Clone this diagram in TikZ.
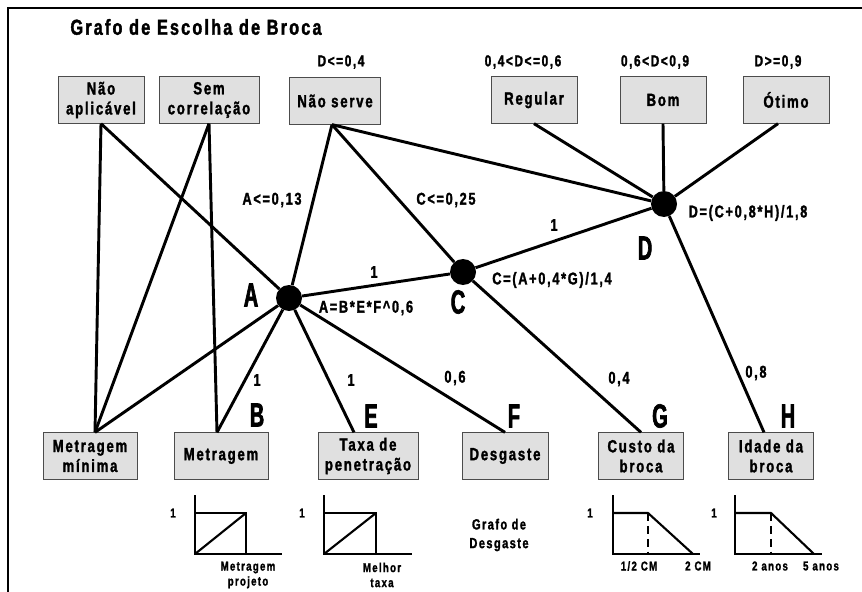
\documentclass[tikz,border=0pt]{standalone}
\usepackage{fontspec}
\setmainfont{Liberation Sans}[FakeStretch=0.75,LetterSpace=10,FakeBold=1.6]
\newfontfamily\letrafont{Liberation Sans}[FakeStretch=0.6,FakeBold=2]
\usetikzlibrary{calc}

\tikzset{
  caixa/.style={draw=black!70, line width=0.8pt, fill=black!12, minimum height=1.39cm, inner sep=0pt, align=center, font=\bfseries\fontsize{15}{17}\selectfont},
  no/.style={circle, fill=black, minimum size=0.78cm, inner sep=0pt},
  aresta/.style={line width=2.5pt},
  titulo/.style={font=\bfseries\fontsize{18.5}{20}\selectfont, inner sep=0pt},
  faixa/.style={font=\bfseries\fontsize{13.5}{15}\selectfont, inner sep=0pt},
  rotulo/.style={font=\bfseries\fontsize{14.5}{16}\selectfont, inner sep=0pt},
  letra/.style={font=\letrafont\bfseries\fontsize{28.5}{30}\selectfont, inner sep=0pt},
  eixo/.style={line width=2.5pt},
  curva/.style={line width=1.8pt},
  tracejado/.style={line width=2.5pt, dash pattern=on 7pt off 4pt},
  legenda/.style={font=\bfseries\fontsize{11}{12.8}\selectfont, inner sep=0pt, align=center},
}

\begin{document}
\begin{tikzpicture}[x=0.03cm, y=-0.03cm]
			%%%%% MOLDURA %%%%%
			\useasboundingbox (0,0) rectangle (862,592);
			\draw[line width=1.8pt] (8,592) -- (8,8) -- (862,8);
			
			\node[titulo] (titulo) at (196,27) {Grafo de Escolha de Broca};
			
			%%%%% CAIXAS DE CIMA %%%%%
			\node[caixa, minimum width=2.58cm] (naoap) at (101,100) {Não\\aplicável};
			\node[caixa, minimum width=3cm] (semcor) at (209,100) {Sem\\correlação};
			\node[caixa, minimum width=2.73cm] (naoserve) at (335,101) {Não serve};
			\node[caixa, minimum width=2.58cm] (regular) at (534,100) {Regular};
			\node[caixa, minimum width=2.58cm] (bom) at (663,100) {Bom};
			\node[caixa, minimum width=2.58cm] (otimo) at (786,100) {Ótimo};
			
			\node[faixa] (faixa1) at (341,62) {D<=0,4};
			\node[faixa] (faixa2) at (523,62) {0,4<D<=0,6};
			\node[faixa] (faixa3) at (655,62) {0,6<D<0,9};
			\node[faixa] (faixa4) at (778,62) {D>=0,9};
			
			%%%%% CAIXAS DE BAIXO %%%%%
			\node[caixa, minimum width=2.82cm] (metmin) at (90,456) {Metragem\\mínima};
			\node[caixa, minimum width=2.82cm] (metragem) at (221,456) {Metragem};
			\node[caixa, minimum width=3cm] (taxa) at (368,456) {Taxa de\\penetração};
			\node[caixa, minimum width=2.58cm] (desgaste) at (505,456) {Desgaste};
			\node[caixa, minimum width=2.55cm] (custo) at (641,456) {Custo da\\broca};
			\node[caixa, minimum width=2.55cm] (idade) at (771,456) {Idade da\\broca};
			
			\node[letra] (letraB) at (257,415) {B};
			\node[letra] (letraE) at (371,416) {E};
			\node[letra] (letraF) at (514,416) {F};
			\node[letra] (letraG) at (660,416) {G};
			\node[letra] (letraH) at (788,416) {H};
			
			%%%%% NOS %%%%%
			\node[no] (A) at (289,298) {};
			\node[no] (C) at (463,272) {};
			\node[no] (D) at (664,204) {};
			
			\node[letra] (letraA) at (251,295) {A};
			\node[letra] (letraC) at (458,302) {C};
			\node[letra] (letraD) at (645,248) {D};
			
			\node[rotulo] (fA) at (366,308) {A=B*E*F\^{}0,6};
			\node[rotulo] (fC) at (552,280) {C=(A+0,4*G)/1,4};
			\node[rotulo] (fD) at (748,213) {D=(C+0,8*H)/1,8};
			
			% pontos de contato nas caixas
			\coordinate (pserve) at ($(naoserve.south)+(-3,0)$);
			\coordinate (pmin) at ($(metmin.north)+(5,0)$);
			\coordinate (pmet) at ($(metragem.north)+(-4,0)$);
			\coordinate (ptaxa) at ($(taxa.north)+(-14,0)$);
			\coordinate (pidade) at ($(idade.north)+(-7,0)$);
			\coordinate (potimo) at ($(otimo.south)+(-8,0)$);
			
			%%%%% ARESTAS %%%%%
			\draw[aresta] (naoap.south) -- (A);
			\draw[aresta] (naoap.south) -- (pmin);
			\draw[aresta] (semcor.south) -- (pmet);
			\draw[aresta] (semcor.south) -- (pmin);
			\draw[aresta] (pmin) -- (A);
			\draw[aresta] (pmet) -- (A);
			\draw[aresta] (pserve) -- (A);
			\draw[aresta] (pserve) -- (C);
			\draw[aresta] (pserve) -- (D);
			\draw[aresta] (A) -- (C);
			\draw[aresta] (A) -- (ptaxa);
			\draw[aresta] (A) -- (desgaste.north);
			\draw[aresta] (C) -- (D);
			\draw[aresta] (C) -- (custo.north);
			\draw[aresta] (D) -- (regular.south);
			\draw[aresta] (D) -- (bom.south);
			\draw[aresta] (D) -- (potimo);
			\draw[aresta] (D) -- (pidade);
			
			\node[rotulo] (lim1) at (272,200) {A<=0,13};
			\node[rotulo] (lim2) at (446,200) {C<=0,25};
			\node[rotulo] (pesoAC) at (374,272) {1};
			\node[rotulo] (pesoCD) at (554,225) {1};
			\node[rotulo] (pesoB) at (257,380) {1};
			\node[rotulo] (pesoE) at (351,380) {1};
			\node[rotulo] (pesoF) at (455,378) {0,6};
			\node[rotulo] (pesoG) at (619,379) {0,4};
			\node[rotulo] (pesoH) at (756,373) {0,8};
			
			%%%%% GRAFICOS %%%%%
			\draw[eixo] (195,495) -- (195,554) -- (282,554);
			\draw[curva] (195,513) -- (246,513) -- (246,554);
			\draw[curva] (195,554) -- (246,513);
			\node[legenda] (um1) at (173,513) {1};
			\node[legenda] (leg1) at (248,575) {Metragem\\projeto};
			
			\draw[eixo] (324,495) -- (324,554) -- (412,554);
			\draw[curva] (324,513) -- (376,513) -- (376,554);
			\draw[curva] (324,554) -- (376,513);
			\node[legenda] (um2) at (302,513) {1};
			\node[legenda] (leg2) at (382,575) {Melhor\\taxa};
			
			\node[legenda, font=\bfseries\fontsize{12.5}{16}\selectfont] (leg3) at (499,535) {Grafo de\\Desgaste};
			
			\draw[eixo] (613,495) -- (613,554) -- (700,554);
			\draw[curva] (613,513) -- (648,513) -- (693,554);
			\draw[tracejado] (648,513) -- (648,554);
			\node[legenda] (um4) at (590,513) {1};
			\node[legenda] (leg4a) at (639,566) {1/2 CM};
			\node[legenda] (leg4b) at (698,566) {2 CM};
			
			\draw[eixo] (735,495) -- (735,554) -- (822,554);
			\draw[curva] (735,513) -- (771,513) -- (814,554);
			\draw[tracejado] (771,513) -- (771,554);
			\node[legenda] (um5) at (714,513) {1};
			\node[legenda] (leg5a) at (770,566) {2 anos};
			\node[legenda] (leg5b) at (821,566) {5 anos};
\end{tikzpicture}
\end{document}
